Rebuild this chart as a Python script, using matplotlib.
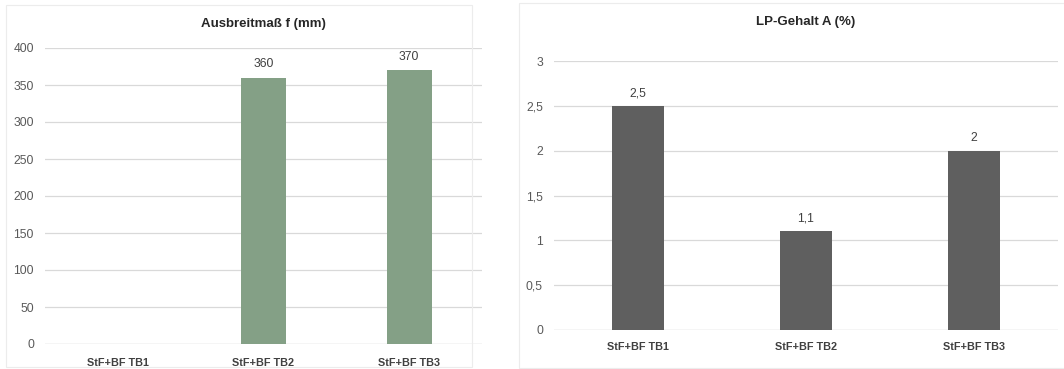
import matplotlib
matplotlib.use('Agg')
import matplotlib.pyplot as plt
from matplotlib.patches import Rectangle

plt.rcParams['font.family'] = ['Liberation Sans', 'DejaVu Sans']

categories = ['StF+BF TB1', 'StF+BF TB2', 'StF+BF TB3']

# Ausbreitmaß f (mm), TB1 has no value
spread_vals = [None, 360, 370]
spread_ticks = [0, 50, 100, 150, 200, 250, 300, 350, 400]

# LP-Gehalt A (%)
air_vals = [2.5, 1.1, 2.0]
air_ticks = [0, 0.5, 1, 1.5, 2, 2.5, 3]

W, H = 1064, 369
fig = plt.figure(figsize=(W / 100, H / 100), dpi=100)
fig.patch.set_facecolor('white')


def px_axes(x0, y0, x1, y1):
    return fig.add_axes([x0 / W, 1 - y1 / H, (x1 - x0) / W, (y1 - y0) / H])


def de(v):
    return ('%g' % v).replace('.', ',')


# faint chart frames
for (x0, y0, x1, y1) in [(6, 5, 472, 367), (519, 3, 1066, 368)]:
    fig.patches.append(Rectangle((x0 / W, 1 - y1 / H), (x1 - x0) / W, (y1 - y0) / H,
                                 transform=fig.transFigure, fill=False,
                                 edgecolor='#ececec', linewidth=0.8))


def draw(ax, vals, ticks, color, title, title_y, lbl_pad):
    x = list(range(len(categories)))
    heights = [v if v is not None else 0 for v in vals]
    ax.bar(x, heights, width=0.31, color=color, zorder=3)
    ax.set_xlim(-0.5, len(categories) - 0.5)
    ax.set_ylim(ticks[0], ticks[-1])
    ax.set_yticks(ticks)
    ax.set_yticklabels([de(t) for t in ticks], fontsize=8.7, color='#595959')
    ax.set_xticks(x)
    ax.set_xticklabels(categories, fontsize=7.8, fontweight='bold', color='#404040')
    ax.tick_params(axis='both', length=0)
    ax.tick_params(axis='y', pad=8)
    ax.tick_params(axis='x', pad=lbl_pad)
    ax.grid(axis='y', color='#d9d9d9', linewidth=0.9, zorder=0)
    for s in ax.spines.values():
        s.set_visible(False)
    ax.axhline(ticks[0], color='#d9d9d9', linewidth=0.9, zorder=1)
    off = (ticks[-1] - ticks[0]) * 0.025
    for xi, v in zip(x, vals):
        if v is None:
            continue
        ax.text(xi, v + off, de(v), ha='center', va='bottom', fontsize=8.7, color='#404040')
    pos = ax.get_position()
    fig.text((pos.x0 + pos.x1) / 2, 1 - title_y / H, title,
             ha='center', va='center', fontsize=9.5, fontweight='bold', color='#262626')


ax1 = px_axes(45, 48, 482, 344)
draw(ax1, spread_vals, spread_ticks, '#84a086', 'Ausbreitmaß f (mm)', 24, 10)

ax2 = px_axes(554, 61, 1058, 330)
draw(ax2, air_vals, air_ticks, '#5f5f5f', 'LP-Gehalt A (%)', 22, 9)

fig.savefig('out.png', dpi=100, facecolor='white')
